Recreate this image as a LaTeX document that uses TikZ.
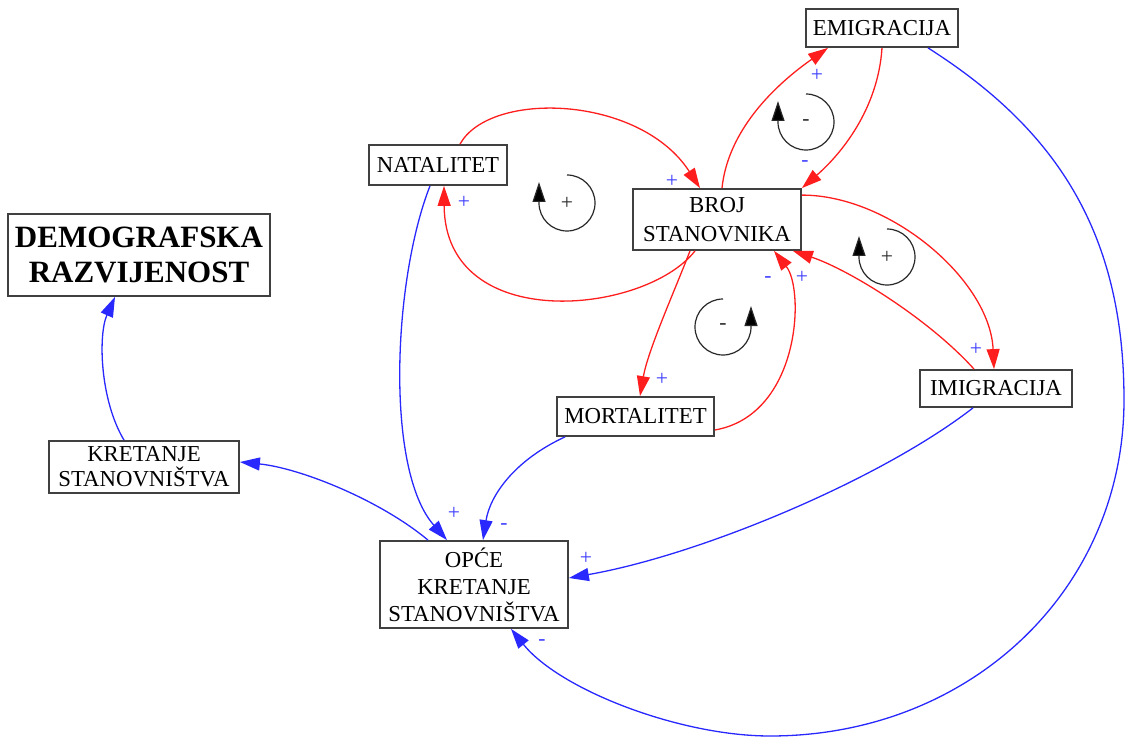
\documentclass[tikz,border=0pt]{standalone}
\usepackage{fontspec}
\setmainfont{Liberation Serif}
\usetikzlibrary{arrows.meta,calc}
\definecolor{lred}{RGB}{255,30,30}
\definecolor{lblue}{RGB}{40,40,255}
\definecolor{sblue}{RGB}{60,60,255}
\definecolor{boxgray}{RGB}{64,64,64}
\definecolor{loopgray}{RGB}{40,40,40}
\begin{document}
\begin{tikzpicture}[x=0.5pt,y=-0.5pt,
  var/.style={draw=boxgray, line width=0.9pt, fill=white, inner sep=0pt, align=center,
    font=\fontsize{11.4}{13.5}\selectfont},
  redlink/.style={draw=lred, line width=0.65pt, -{Triangle[length=10pt,width=6.5pt]}},
  bluelink/.style={draw=lblue, line width=0.65pt, -{Triangle[length=10pt,width=6.5pt]}},
  sign/.style={text=sblue, font=\fontsize{10.8}{11}\selectfont, inner sep=0pt},
  loopsign/.style={text=loopgray, font=\fontsize{10.8}{11}\selectfont, inner sep=0pt},
  loopline/.style={draw=loopgray, line width=0.6pt, -{Triangle[length=10pt,width=6.5pt,fill=black]}}
]
\useasboundingbox (0,0) rectangle (1126,738);

% variables
\node[var, minimum width=76pt, minimum height=19pt] (emi) at (882,28) {EMIGRACIJA};
\node[var, minimum width=84pt, minimum height=30.5pt, font=\fontsize{11.4}{14.5}\selectfont] (broj) at (717,219.5) {BROJ\\STANOVNIKA};
\node[var, minimum width=69pt, minimum height=20pt] (nat) at (438,165) {NATALITET};
\node[var, minimum width=78.5pt, minimum height=19.5pt] (mort) at (635.5,416.5) {MORTALITET};
\node[var, minimum width=76pt, minimum height=18.5pt] (imi) at (996,388.5) {IMIGRACIJA};
\node[var, minimum width=94pt, minimum height=43.5pt] (opce) at (474,584.5) {OPĆE\\KRETANJE\\STANOVNIŠTVA};
\node[var, minimum width=95pt, minimum height=26pt, font=\fontsize{11.4}{12.5}\selectfont] (kret) at (144,467) {KRETANJE\\STANOVNIŠTVA};
\node[var, minimum width=131pt, minimum height=41pt, font=\fontsize{15.5}{17.5}\selectfont\bfseries] (demo) at (139,255) {DEMOGRAFSKA\\RAZVIJENOST};

% red links
\draw[redlink] ($(nat.north)+(22,0)$) .. controls (490,90) and (640,95) .. ($(broj.north)+(-17,0)$);
\draw[redlink] ($(broj.south)+(-22,0)$) .. controls (645,315) and (445,335) .. ($(nat.south)+(6,0)$);
\draw[redlink] ($(broj.north)+(5,0)$) .. controls (728,130) and (775,85) .. ($(emi.south)+(-54,0)$);
\draw[redlink] (emi.south) .. controls (878,110) and (840,155) .. (broj.north east);
\draw[redlink] ($(broj.north east)+(0,7)$) .. controls (890,195) and (990,280) .. ($(imi.north)+(-2,0)$);
\draw[redlink] ($(imi.north)+(-22,0)$) .. controls (930,320) and (850,270) .. ($(broj.south east)+(-9,0)$);
\draw[redlink] ($(broj.south)+(-27,0)$) .. controls (675,290) and (648,350) .. ($(mort.north)+(4.5,0)$);
\draw[redlink] ($(mort.east)+(0,13.5)$) .. controls (800,415) and (805,290) .. ($(broj.south)+(57,0)$);

% blue links
\draw[bluelink] ($(nat.south)+(-8,0)$) .. controls (393,280) and (385,470) .. ($(opce.north)+(-27,0)$);
\draw[bluelink] ($(mort.south)+(-70.5,0)$) .. controls (515,460) and (490,495) .. ($(opce.north)+(9,0)$);
\draw[bluelink] ($(imi.south)+(-23,0)$) .. controls (880,480) and (700,555) .. ($(opce.east)+(0,-6.5)$);
\draw[bluelink] ($(emi.south)+(46,0)$) .. controls (1054,128) and (1124,230) .. (1124,400)
   .. controls (1124,590) and (970,736) .. (770,736)
   .. controls (680,736) and (560,690) .. ($(opce.south)+(37,0)$);
\draw[bluelink] ($(opce.north)+(-46,0)$) .. controls (380,500) and (300,468) .. ($(kret.east)+(0,-5)$);
\draw[bluelink] ($(kret.north)+(-20,0)$) .. controls (100,400) and (98,335) .. ($(demo.south)+(-24,0)$);

% polarity signs
\node[sign] (l1) at (672,181) {+};
\node[sign] (l2) at (464,202) {+};
\node[sign] (l3) at (817,75) {+};
\node[sign] (l4) at (805,164) {-};
\node[sign] (l5) at (976,349) {+};
\node[sign] (l6) at (802,277) {+};
\node[sign] (l7) at (768,280) {-};
\node[sign] (l8) at (662,379) {+};
\node[sign] (l9) at (454,513) {+};
\node[sign] (l10) at (504,527) {-};
\node[sign] (l11) at (586,558) {+};
\node[sign] (l12) at (542,643) {-};

% loop markers
\draw[loopline] (567,175) arc[start angle=-90, end angle=180, radius=28] -- ++(0,-21);
\node[loopsign] (s1) at (567,203) {+};
\draw[loopline] (806,94) arc[start angle=-90, end angle=180, radius=28] -- ++(0,-21);
\node[loopsign] (s2) at (806,123) {-};
\draw[loopline] (887,229) arc[start angle=-90, end angle=180, radius=28] -- ++(0,-21);
\node[loopsign] (s3) at (887,257) {+};
\draw[loopline] (723,299) arc[start angle=-90, end angle=-360, radius=28] -- ++(0,-21);
\node[loopsign] (s4) at (723,327) {-};
\end{tikzpicture}
\end{document}
